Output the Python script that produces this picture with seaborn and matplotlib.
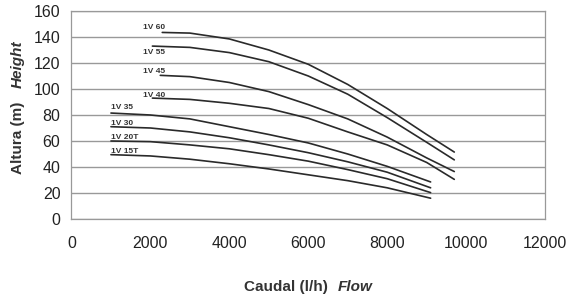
import matplotlib
matplotlib.use("Agg")
import matplotlib.pyplot as plt
import seaborn as sns
import pandas as pd

# ---- data ----
models = ["1V 60", "1V 55", "1V 45", "1V 40", "1V 35", "1V 30", "1V 20T", "1V 15T"]

flow_1v60 = [2300, 3000, 4000, 5000, 6000, 7000, 8000, 9000, 9700]
head_1v60 = [143.5, 143, 138.5, 130, 119, 103.5, 85, 65, 51.5]

flow_1v55 = [2050, 3000, 4000, 5000, 6000, 7000, 8000, 9000, 9700]
head_1v55 = [133, 132, 128, 121, 110, 96, 78, 59, 45.5]

flow_1v45 = [2250, 3000, 4000, 5000, 6000, 7000, 8000, 9000, 9700]
head_1v45 = [110.5, 109.5, 105, 98, 88, 77, 63, 47, 36.5]

flow_1v40 = [2050, 3000, 4000, 5000, 6000, 7000, 8000, 9000, 9700]
head_1v40 = [93, 92, 89, 85, 77.5, 67, 57, 43.5, 30.5]

flow_1v35 = [1000, 2000, 3000, 4000, 5000, 6000, 7000, 8000, 9100]
head_1v35 = [81.5, 80, 77, 71, 65, 58.5, 50, 40.5, 28.5]

flow_1v30 = [1000, 2000, 3000, 4000, 5000, 6000, 7000, 8000, 9100]
head_1v30 = [71, 70, 67, 62.5, 57, 51, 44, 36, 24]

flow_1v20t = [1000, 2000, 3000, 4000, 5000, 6000, 7000, 8000, 9100]
head_1v20t = [60, 59.5, 57, 54, 49.5, 44.5, 38, 31, 20.3]

flow_1v15t = [1000, 2000, 3000, 4000, 5000, 6000, 7000, 8000, 9100]
head_1v15t = [49.5, 48.5, 46, 42.5, 38.5, 34, 29.5, 24, 16]

x_ticks = [0, 2000, 4000, 6000, 8000, 10000, 12000]
y_ticks = [0, 20, 40, 60, 80, 100, 120, 140, 160]

flows = [flow_1v60, flow_1v55, flow_1v45, flow_1v40, flow_1v35, flow_1v30, flow_1v20t, flow_1v15t]
heads = [head_1v60, head_1v55, head_1v45, head_1v40, head_1v35, head_1v30, head_1v20t, head_1v15t]

rows = []
for m, fx, hy in zip(models, flows, heads):
    for a, b in zip(fx, hy):
        rows.append({"model": m, "flow": a, "head": b})
df = pd.DataFrame(rows)

# label anchor positions (layout)
label_pos = [(1820, 144.5), (1820, 125), (1820, 111), (1820, 92.5),
             (990, 83), (990, 70.5), (990, 60), (990, 49)]

sns.set_style("white")
plt.rcParams["font.family"] = ["Liberation Sans", "DejaVu Sans"]

fig = plt.figure(figsize=(5.78, 2.97), dpi=100)
ax = fig.add_axes([0.1237, 0.2626, 0.8193, 0.7004])

sns.lineplot(data=df, x="flow", y="head", hue="model", palette=["#2a2a2a"] * len(models),
             linewidth=1.2, legend=False, ax=ax, sort=False, estimator=None)
for ln in ax.lines:
    ln.set_solid_joinstyle("round")

for m, (lx, ly) in zip(models, label_pos):
    ax.text(lx, ly, m, fontsize=6, fontweight="bold", color="#333333", ha="left", va="bottom")

ax.set_xlim(0, 12000)
ax.set_ylim(0, 160)
ax.set_xticks(x_ticks)
ax.set_yticks(y_ticks)
ax.tick_params(axis="both", labelsize=11.5, colors="#222222", length=4, width=0.8,
               direction="out", color="#888888")
ax.tick_params(axis="y", pad=4)
ax.tick_params(axis="x", pad=8)
ax.yaxis.grid(True, color="#999999", linewidth=1.0)
ax.xaxis.grid(False)
for s in ax.spines.values():
    s.set_color("#999999")
    s.set_linewidth(0.9)
ax.set_xlabel("")
ax.set_ylabel("")

# axis titles (mixed styles)
fig.text(328 / 578, 1 - 287 / 297, "Caudal (l/h)", fontsize=11, fontweight="bold",
         ha="right", va="center", color="#333333")
fig.text(338 / 578, 1 - 287 / 297, "Flow", fontsize=11, fontweight="bold", fontstyle="italic",
         ha="left", va="center", color="#333333")
fig.text(18 / 578, 1 - 174 / 297, "Altura (m)", fontsize=11, fontweight="bold",
         rotation=90, ha="center", va="bottom", color="#333333")
fig.text(18 / 578, 1 - 88 / 297, "Height", fontsize=11, fontweight="bold", fontstyle="italic",
         rotation=90, ha="center", va="bottom", color="#333333")

fig.savefig("out.png", dpi=100)
